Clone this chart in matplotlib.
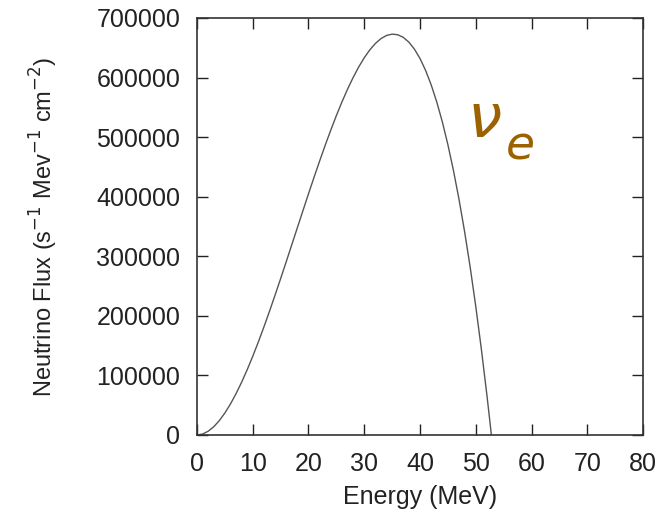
import matplotlib
matplotlib.use('Agg')
import matplotlib.pyplot as plt

# energy (MeV) and flux
energy = [0, 1, 2, 3, 4, 5, 6, 7, 8, 9, 10, 11, 12, 13, 14, 15, 16, 17, 18, 19,
          20, 21, 22, 23, 24, 25, 26, 27, 28, 29, 30, 31, 32, 33, 34, 35, 36,
          37, 38, 39, 40, 41, 42, 43, 44, 45, 46, 47, 48, 49, 50, 51, 52,
          52.5, 52.8]
flux = [0, 1600, 6300, 13800, 24100, 36900, 52000, 69300, 88500, 109500,
        132100, 156100, 181300, 207600, 234700, 262500, 290700, 319300,
        347900, 376500, 404900, 432800, 460000, 486500, 511900, 536200,
        559100, 580400, 600000, 617700, 633200, 646500, 657300, 665400,
        670700, 672900, 671900, 667500, 659500, 647700, 632000, 612100,
        587900, 559200, 525800, 487400, 444000, 395400, 341300, 281600,
        216000, 144500, 66800, 25500, 0]

xticks = [0, 10, 20, 30, 40, 50, 60, 70, 80]
yticks = [0, 100000, 200000, 300000, 400000, 500000, 600000, 700000]

plt.rcParams['font.family'] = ['Liberation Sans', 'DejaVu Sans']

fig = plt.figure(figsize=(6.68, 5.14), dpi=100)
ax = fig.add_axes([0.2949, 0.1537, 0.6677, 0.8113])

ax.plot(energy, flux, color='#555555', linewidth=1.0)

ax.set_xlim(0, 80)
ax.set_ylim(0, 700000)
ax.set_xticks(xticks)
ax.set_yticks(yticks)
ax.tick_params(direction='in', length=8, width=1, top=True, right=True,
               labelsize=18, colors='#222222', pad=12)
for s in ax.spines.values():
    s.set_color('#333333')
    s.set_linewidth(1.2)

ax.set_xlabel('Energy (MeV)', fontsize=18, color='#222222', labelpad=7)
ax.set_ylabel(r'Neutrino Flux (s$^{-1}$ Mev$^{-1}$ cm$^{-2}$)', fontsize=17,
              color='#222222', labelpad=26)

# nu_e label
fig.text(0.699, 0.7335, r'$\nu$', fontsize=44, color='#9C6200',
         ha='left', va='baseline')
fig.text(0.756, 0.6926, r'$e$', fontsize=34, color='#9C6200',
         ha='left', va='baseline')

fig.savefig('out.png', dpi=100)
